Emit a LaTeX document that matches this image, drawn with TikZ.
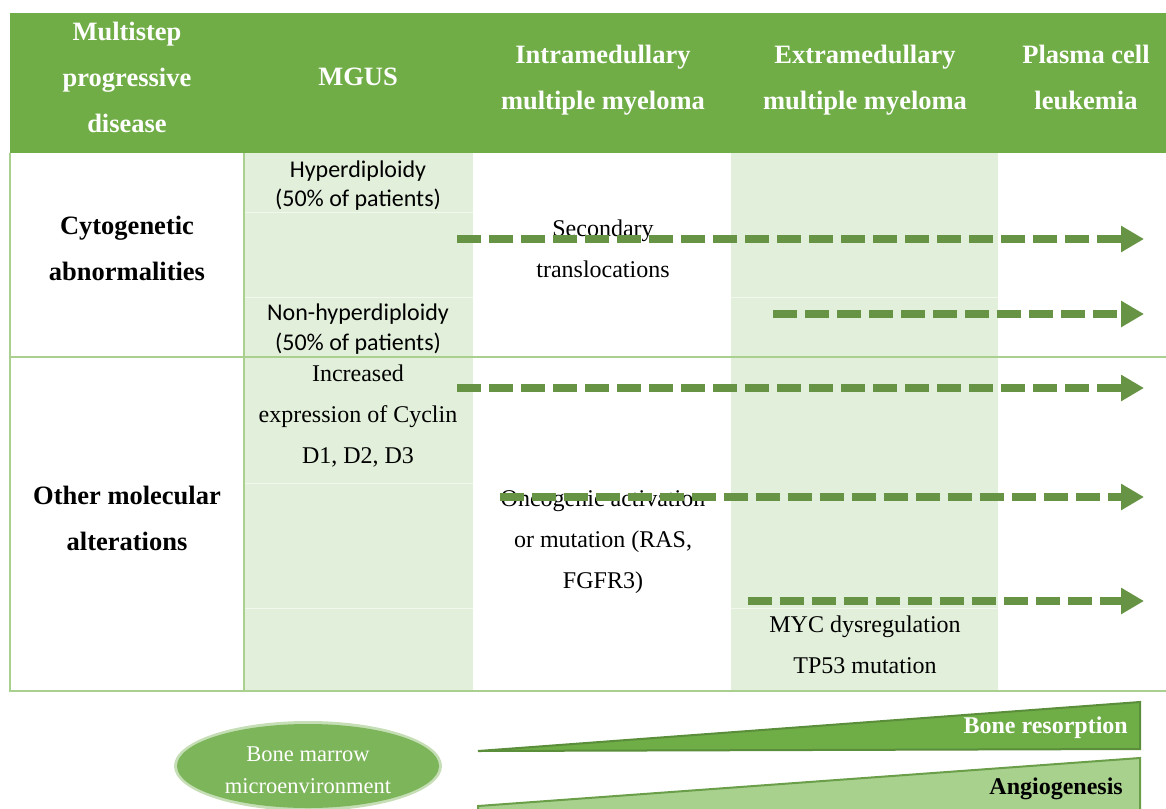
\documentclass[tikz,border=0pt]{standalone}
\usepackage{fontspec}
\setmainfont{Liberation Serif}
\newfontfamily\calib{Carlito}
\usetikzlibrary{arrows.meta,shapes.geometric}
\definecolor{hdr}{HTML}{70AD47}
\definecolor{shd}{HTML}{E2EFDA}
\definecolor{bord}{HTML}{A9D08E}
\definecolor{arr}{HTML}{679444}
\definecolor{ell}{HTML}{7DB55A}
\definecolor{wone}{HTML}{6FAD47}
\definecolor{wonedark}{HTML}{5B8E3A}
\definecolor{wtwo}{HTML}{A9D18E}
\definecolor{wtwodark}{HTML}{6A9E48}
\tikzset{
  hdrtext/.style={text=white, align=center, inner sep=0, font=\fontsize{26.5}{46}\selectfont\bfseries},
  rowtext/.style={text=black, align=center, inner sep=0, font=\fontsize{26.5}{46}\selectfont\bfseries},
  bodyserif/.style={text=black, align=center, inner sep=0, font=\fontsize{24}{41}\selectfont},
  bodysans/.style={text=black, align=center, inner sep=0, font=\calib\fontsize{24}{29.5}\selectfont},
  dasharrow/.style={draw=arr, line width=7.5pt, dash pattern=on 24pt off 8pt, -{Triangle[length=23pt,width=25pt]}},
  faint/.style={draw=white!55!shd, line width=0.6pt},
  tableline/.style={draw=bord, line width=2pt},
}
\begin{document}
\begin{tikzpicture}[x=1pt,y=-1pt]
\useasboundingbox (0,0) rectangle (1166,808);
% header band
\fill[hdr] (10,13) rectangle (1166,153);
% shaded columns
\fill[shd] (244,153) rectangle (473,691);
\fill[shd] (731,153) rectangle (998,691);
% faint cell lines
\draw[faint] (244,212) -- (473,212);
\draw[faint] (244,297) -- (473,297);
\draw[faint] (244,483) -- (473,483);
\draw[faint] (244,608) -- (473,608);
\draw[faint] (731,297) -- (998,297);
\draw[faint] (731,608) -- (998,608);
% table lines
\draw[tableline] (10,153) -- (10,691) -- (1166,691);
\draw[tableline] (10,357) -- (1166,357);
\draw[tableline] (244,153) -- (244,691);

% header texts
\node[hdrtext] (h1) at (127,77) {Multistep\\progressive\\disease};
\node[hdrtext] (h2) at (358,77) {MGUS};
\node[hdrtext] (h3) at (603,80) {Intramedullary\\multiple myeloma};
\node[hdrtext] (h4) at (865,80) {Extramedullary\\multiple myeloma};
\node[hdrtext] (h5) at (1086,77) {Plasma cell\\leukemia};

% row labels
\node[rowtext] (r1) at (127,248) {Cytogenetic\\abnormalities};
\node[rowtext] (r2) at (127,518) {Other molecular\\alterations};

% body texts
\node[bodysans] (hyp) at (358,185.5) {Hyperdiploidy\\(50\% of patients)};
\node[bodysans] (nonhyp) at (358,329) {Non-hyperdiploidy\\(50\% of patients)};
\node[bodyserif] (sec) at (603,249) {Secondary\\translocations};
\node[bodyserif] (cyc) at (358,416) {Increased\\expression of Cyclin\\D1, D2, D3};
\node[bodyserif] (onc) at (603,542) {Oncogenic activation\\or mutation (RAS,\\FGFR3)};
\node[bodyserif] (myc) at (865,645) {MYC dysregulation\\TP53 mutation};

% arrow end points
\coordinate (a1s) at (457,239); \coordinate (a1e) at (1144,239);
\coordinate (a2s) at (773,314); \coordinate (a2e) at (1144,314);
\coordinate (a3s) at (457,388); \coordinate (a3e) at (1144,388);
\coordinate (a4s) at (500,497); \coordinate (a4e) at (1144,497);
\coordinate (a5s) at (748,601); \coordinate (a5e) at (1144,601);
\draw[dasharrow] (a1s) -- (a1e);
\draw[dasharrow] (a2s) -- (a2e);
\draw[dasharrow] (a3s) -- (a3e);
\draw[dasharrow] (a4s) -- (a4e);
\draw[dasharrow] (a5s) -- (a5e);

% bottom part
\fill[ell!45] (308,766) ellipse [x radius=134, y radius=45];
\node[ellipse, fill=ell, minimum width=262pt, minimum height=84pt, inner sep=0] (bm) at (308,766) {};
\node[text=white, align=center, inner sep=0, font=\fontsize{22.5}{32}\selectfont] (bmt) at (bm.center) [yshift=-4pt]
      {Bone marrow\\microenvironment};

\filldraw[fill=wone, draw=wonedark, line width=2pt, line join=miter]
  (478,751) -- (1140,702) -- (1140,749) -- cycle;
\filldraw[fill=wtwo, draw=wtwodark, line width=2pt, line join=miter]
  (478,806) -- (1140,758) -- (1140,812) -- (478,812) -- cycle;
\node[anchor=east, inner sep=0, text=white, font=\fontsize{24}{27}\selectfont\bfseries] (br) at (1128,728) {Bone resorption};
\node[anchor=east, inner sep=0, text=black, font=\fontsize{24}{27}\selectfont\bfseries] (ag) at (1123,789) {Angiogenesis};
\end{tikzpicture}
\end{document}
